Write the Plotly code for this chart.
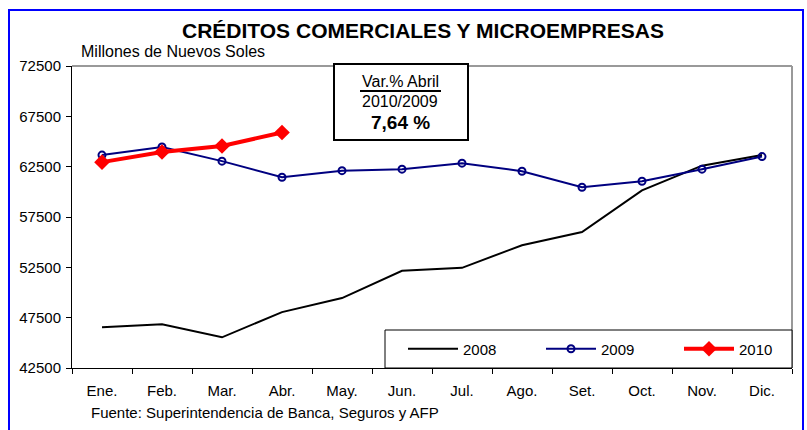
import plotly.graph_objects as go

months = ["Ene.", "Feb.", "Mar.", "Abr.", "May.", "Jun.", "Jul.", "Ago.", "Set.", "Oct.", "Nov.", "Dic."]
s2008 = [46550, 46850, 45550, 48050, 49450, 52150, 52450, 54700, 56000, 60150, 62600, 63650]
s2009 = [63650, 64450, 63050, 61450, 62100, 62250, 62850, 62050, 60450, 61050, 62250, 63500]
s2010 = [62950, 63950, 64550, 65900]
y_ticks = [42500, 47500, 52500, 57500, 62500, 67500, 72500]

W, H = 807, 430
L, R, T, B = 72, 15, 66, 62
pw, ph = W - L - R, H - T - B

def px(x):
    return (x - L) / pw

def py(y):
    return 1 - (y - T) / ph

FONT = "Liberation Sans, Arial, sans-serif"

fig = go.Figure()
fig.add_trace(go.Scatter(x=months, y=s2008, name="2008", mode="lines",
                         line=dict(color="black", width=2)))
fig.add_trace(go.Scatter(x=months, y=s2009, name="2009", mode="lines+markers",
                         line=dict(color="#000080", width=2),
                         marker=dict(symbol="circle-open", size=7, color="#000080",
                                     line=dict(width=2, color="#000080"))))
fig.add_trace(go.Scatter(x=months[:len(s2010)], y=s2010, name="2010", mode="lines+markers",
                         line=dict(color="#ff0000", width=4),
                         marker=dict(symbol="diamond", size=12, color="#ff0000")))

shapes = [
    dict(type="rect", xref="paper", yref="paper", x0=px(9), x1=px(803), y0=py(432), y1=py(10),
         line=dict(color="#0000ff", width=2), layer="below"),
    dict(type="line", xref="paper", yref="paper", x0=0, x1=px(792), y0=1, y1=1,
         line=dict(color="#999999", width=2), layer="below"),
    dict(type="line", xref="paper", yref="paper", x0=px(792), x1=px(792), y0=0, y1=1,
         line=dict(color="#999999", width=2), layer="below"),
    dict(type="rect", xref="paper", yref="paper", x0=px(385), x1=px(792), y0=0, y1=py(330),
         line=dict(color="black", width=1), fillcolor="white", layer="above"),
    dict(type="rect", xref="paper", yref="paper", x0=px(334), x1=px(468), y0=py(140), y1=py(64),
         line=dict(color="black", width=2), fillcolor="white", layer="above"),
    dict(type="line", xref="paper", yref="paper", x0=px(360), x1=px(441), y0=py(91), y1=py(91),
         line=dict(color="black", width=2), layer="above"),
]

annotations = [
    dict(text="<b>CRÉDITOS COMERCIALES Y MICROEMPRESAS</b>", x=px(423), y=py(30),
         xref="paper", yref="paper", showarrow=False, xanchor="center", yanchor="middle",
         font=dict(size=21, color="black", family=FONT)),
    dict(text="Millones de Nuevos Soles", x=px(79), y=py(51),
         xref="paper", yref="paper", showarrow=False, xanchor="left", yanchor="middle",
         font=dict(size=16, color="black", family=FONT)),
    dict(text="Fuente: Superintendencia de Banca, Seguros y AFP", x=px(89), y=py(412),
         xref="paper", yref="paper", showarrow=False, xanchor="left", yanchor="middle",
         font=dict(size=15, color="black", family=FONT)),
    dict(text="Var.% Abril", x=px(400), y=py(81),
         xref="paper", yref="paper", showarrow=False, xanchor="center", yanchor="middle",
         font=dict(size=16, color="black", family=FONT)),
    dict(text="2010/2009", x=px(400), y=py(101),
         xref="paper", yref="paper", showarrow=False, xanchor="center", yanchor="middle",
         font=dict(size=16, color="black", family=FONT)),
    dict(text="<b>7,64 %</b>", x=px(400), y=py(122),
         xref="paper", yref="paper", showarrow=False, xanchor="center", yanchor="middle",
         font=dict(size=19, color="black", family=FONT)),
]

fig.update_layout(
    width=W, height=H,
    margin=dict(l=L, r=R, t=T, b=B, autoexpand=False),
    paper_bgcolor="white", plot_bgcolor="white",
    font=dict(family=FONT, size=14, color="black"),
    showlegend=True,
    legend=dict(orientation="h", x=px(403), y=py(349), xanchor="left", yanchor="middle",
                bgcolor="rgba(0,0,0,0)", borderwidth=0,
                entrywidth=73, entrywidthmode="pixels", itemwidth=50,
                font=dict(size=15, family=FONT, color="black"),
                traceorder="normal"),
    shapes=shapes,
    annotations=annotations,
    xaxis=dict(type="category", range=[-0.5, 11.5], showgrid=False, zeroline=False,
               showline=True, linecolor="black", linewidth=1,
               ticks="outside", tickson="boundaries", ticklen=5, tickcolor="black",
               ticklabelstandoff=9,
               tickfont=dict(size=15, family=FONT), fixedrange=True),
    yaxis=dict(range=[42500, 72500], tickvals=y_ticks, ticktext=[str(v) for v in y_ticks],
               showgrid=False, zeroline=False, showline=True, linecolor="black", linewidth=1,
               ticks="outside", ticklen=5, tickcolor="black", ticklabelstandoff=2,
               tickfont=dict(size=15, family=FONT), fixedrange=True),
)

fig.write_html("out.html", config={"displayModeBar": False},
               post_script="document.body.style.margin='0';")
